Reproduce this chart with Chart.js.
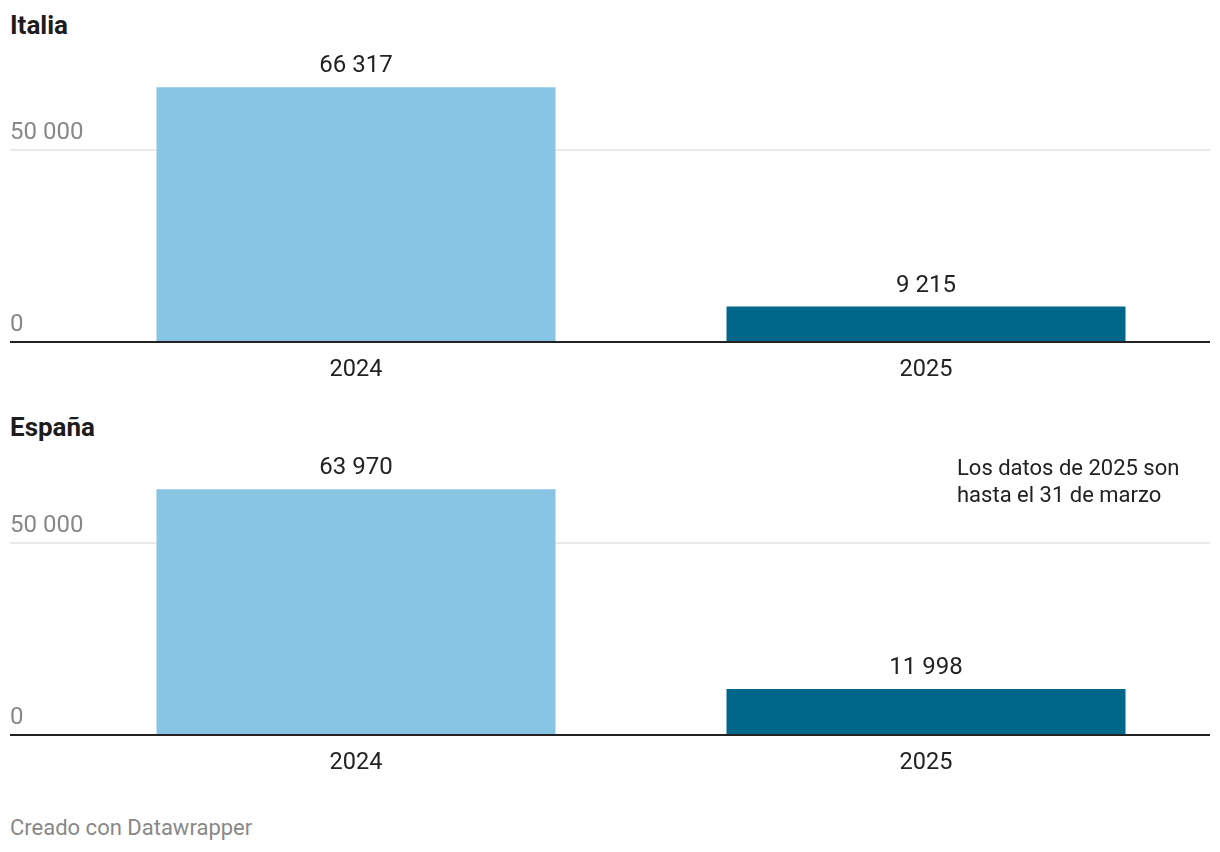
<!DOCTYPE html>
<html>
<head>
<meta charset="utf-8">
<script src="https://cdn.jsdelivr.net/npm/chart.js@4.4.0/dist/chart.umd.min.js"></script>
<style>
  body { margin: 0; background: #fff; font-family: Roboto, sans-serif; }
  .wrap { position: relative; width: 1220px; height: 852px; }
  .title { position: absolute; left: 10px; font-weight: 700; font-size: 26px; line-height: 30px; color: #1d1d1d; }
  .box { position: absolute; left: 0; width: 1220px; height: 350px; }
  .note { position: absolute; left: 957px; top: 454px; font-size: 22px; line-height: 27px; color: #222; }
  .foot { position: absolute; left: 10px; top: 815px; font-size: 22px; line-height: 26px; color: #888; }
</style>
</head>
<body>
<div class="wrap">
  <div class="title" style="top:10px">Italia</div>
  <div class="box" style="top:40px"><canvas id="italia"></canvas></div>
  <div class="title" style="top:412px">España</div>
  <div class="box" style="top:433px"><canvas id="espana"></canvas></div>
  <div class="note">Los datos de 2025 son<br>hasta el 31 de marzo</div>
  <div class="foot">Creado con Datawrapper</div>
</div>
<script>
const years = ['2024', '2025'];
const italia = [66317, 9215];
const espana = [63970, 11998];
const yTicks = [0, 50000];
const barColors = ['#88c4e3', '#00678a'];

const fmt = v => String(v).replace(/\B(?=(\d{3})+(?!\d))/g, ' ');

// gridlines, tick labels and value labels, datawrapper style
const dwPlugin = {
  id: 'dw',
  beforeDatasetsDraw(chart) {
    const ctx = chart.ctx, y = chart.scales.y;
    ctx.save();
    ctx.font = '24px Roboto';
    ctx.textAlign = 'left';
    ctx.textBaseline = 'middle';
    yTicks.forEach(t => {
      const py = y.getPixelForValue(t);
      if (t !== 0) {
        ctx.strokeStyle = '#e3e3e3';
        ctx.lineWidth = 1.5;
        ctx.beginPath(); ctx.moveTo(10, py); ctx.lineTo(1210, py); ctx.stroke();
      }
      ctx.fillStyle = '#888';
      ctx.fillText(fmt(t), 10, py - 17);
    });
    ctx.restore();
  },
  afterDatasetsDraw(chart) {
    const ctx = chart.ctx, y = chart.scales.y;
    ctx.save();
    const py = y.getPixelForValue(0);
    ctx.strokeStyle = '#222';
    ctx.lineWidth = 2;
    ctx.beginPath(); ctx.moveTo(10, py); ctx.lineTo(1210, py); ctx.stroke();
    ctx.font = '24px Roboto';
    ctx.fillStyle = '#222';
    ctx.textAlign = 'center';
    ctx.textBaseline = 'middle';
    chart.getDatasetMeta(0).data.forEach((bar, i) => {
      ctx.fillText(fmt(chart.data.datasets[0].data[i]), bar.x, bar.y - 21);
    });
    ctx.restore();
  }
};

function makeChart(id, values) {
  return new Chart(document.getElementById(id), {
    type: 'bar',
    data: {
      labels: years,
      datasets: [{ data: values, backgroundColor: barColors, categoryPercentage: 1, barPercentage: 0.7 }]
    },
    options: {
      responsive: true,
      maintainAspectRatio: false,
      animation: false,
      layout: { padding: { left: 71, right: 9, top: 14, bottom: 0 } },
      plugins: { legend: { display: false }, tooltip: { enabled: false } },
      scales: {
        x: {
          grid: { display: false },
          border: { display: false },
          ticks: { color: '#222', font: { family: 'Roboto', size: 23.5 }, padding: 6 },
          afterFit: s => { s.height = 48; }
        },
        y: { display: false, min: 0, max: 75000 }
      }
    },
    plugins: [dwPlugin]
  });
}

makeChart('italia', italia);
makeChart('espana', espana);
</script>
</body>
</html>
